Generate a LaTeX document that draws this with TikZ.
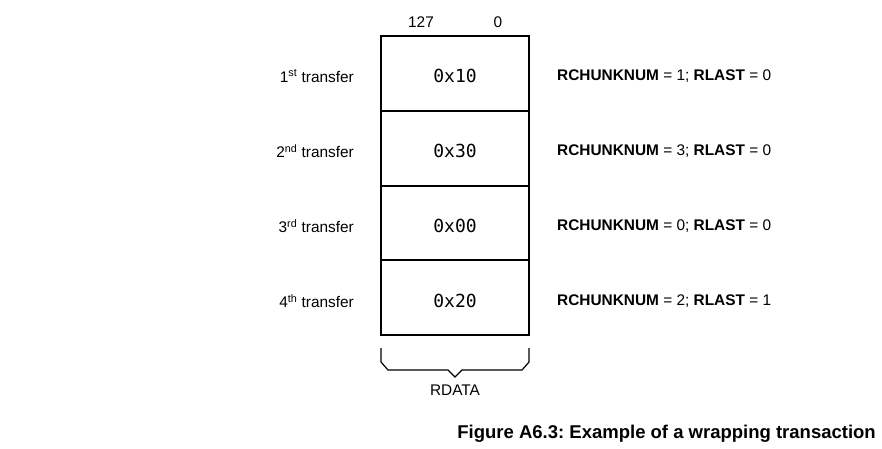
\documentclass[tikz,border=0pt]{standalone}
\usepackage{fontspec}
\setmainfont{Liberation Sans}
\newfontfamily\hexfont{DejaVu Sans Mono}
\usetikzlibrary{calc}
\frenchspacing
\tikzset{
  lbl/.style={font=\fontsize{15.4}{17}\selectfont, inner sep=0pt},
  hexval/.style={font=\hexfont\fontsize{18}{20}\selectfont, inner sep=0pt},
  row/.style={draw, line width=1.2pt, minimum width=148pt, minimum height=75pt, inner sep=0pt}
}

\begin{document}
\begin{tikzpicture}[x=1pt, y=-1pt, line join=miter]
		%%%%% START %%%%%
		\useasboundingbox (0, 0) rectangle (882, 448);
		
		\node[lbl] (msb) at (421, 22) {127};
		\node[lbl] (lsb) at (498, 22) {0};
		
		\node[row] (r1) at (455, 73.5) {};
		\node[row] (r2) at (455, 148.5) {};
		\node[row] (r3) at (455, 223) {};
		\node[row] (r4) at (455, 297.5) {};
		
		\node[hexval] (h1) at (455, 76) {0x10};
		\node[hexval] (h2) at (455, 151) {0x30};
		\node[hexval] (h3) at (455, 226) {0x00};
		\node[hexval] (h4) at (455, 301) {0x20};
		
		\node[lbl, anchor=east] (t1) at (354, 76) {1\textsuperscript{st} transfer};
		\node[lbl, anchor=east] (t2) at (354, 151) {2\textsuperscript{nd} transfer};
		\node[lbl, anchor=east] (t3) at (354, 226) {3\textsuperscript{rd} transfer};
		\node[lbl, anchor=east] (t4) at (354, 301) {4\textsuperscript{th} transfer};
		
		\node[lbl, anchor=west] (s1) at (557, 76) {\textbf{RCHUNKNUM} = 1; \textbf{RLAST} = 0};
		\node[lbl, anchor=west] (s2) at (557, 151) {\textbf{RCHUNKNUM} = 3; \textbf{RLAST} = 0};
		\node[lbl, anchor=west] (s3) at (557, 226) {\textbf{RCHUNKNUM} = 0; \textbf{RLAST} = 0};
		\node[lbl, anchor=west] (s4) at (557, 301) {\textbf{RCHUNKNUM} = 2; \textbf{RLAST} = 1};
		
		% brace under the data column
		\coordinate (bl) at (381, 348);
		\coordinate (br) at (529, 348);
		\coordinate (btip) at (455, 377);
		\draw[line width=1.2pt] (bl) -- ++(0, 14) -- ++(7, 8) -- ($(btip)+(-7,-7)$) -- (btip)
			-- ($(btip)+(7,-7)$) -- ($(br)+(-7,22)$) -- ($(br)+(0,14)$) -- (br);
		\node[lbl] (rdata) at (455, 390) {RDATA};
		
		\node[font=\bfseries\fontsize{18.5}{20}\selectfont, inner sep=0pt, anchor=east] (cap) at (876, 434)
			{Figure A6.3: Example of a wrapping transaction};
		
		%%%%% END %%%%%
	\end{tikzpicture}
\end{document}
